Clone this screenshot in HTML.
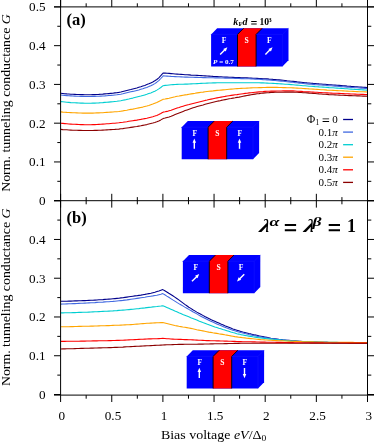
<!DOCTYPE html>
<html><head><meta charset="utf-8"><title>Tunneling conductance</title>
<style>
html,body{margin:0;padding:0;background:#fff;}
body{width:374px;height:443px;overflow:hidden;font-family:"Liberation Serif",serif;}
svg{display:block;will-change:transform;font-family:"Liberation Serif",serif;}
</style></head><body>
<svg width="374" height="443" viewBox="0 0 374 443">
<rect width="374" height="443" fill="#fff"/>
<g fill="none" stroke-width="1.08" stroke-linejoin="round">
<path d="M60.8 93.3 L62.8 93.5 L64.8 93.7 L66.8 93.9 L68.8 94.0 L70.8 94.2 L72.8 94.3 L74.8 94.4 L76.8 94.5 L78.8 94.5 L80.8 94.6 L82.8 94.6 L84.8 94.7 L86.8 94.7 L88.8 94.7 L90.8 94.7 L92.8 94.6 L94.8 94.6 L96.8 94.5 L98.8 94.4 L100.8 94.2 L102.8 94.1 L104.8 93.9 L106.8 93.8 L108.8 93.6 L110.8 93.4 L112.8 93.2 L114.8 92.9 L116.8 92.7 L118.8 92.4 L120.8 92.0 L122.8 91.5 L124.8 91.0 L126.8 90.5 L128.8 90.0 L130.8 89.5 L132.8 88.9 L134.8 88.4 L136.8 87.9 L138.8 87.3 L140.8 86.7 L142.8 86.0 L144.8 85.4 L146.8 84.6 L148.8 83.8 L150.8 82.9 L152.8 82.0 L154.8 80.8 L156.8 79.5 L158.8 77.8 L160.8 75.7 L162.8 73.4 L163.1 73.0 L165.1 73.1 L167.1 73.3 L169.1 73.4 L171.1 73.6 L173.1 73.8 L175.1 74.0 L177.1 74.1 L179.1 74.3 L181.1 74.4 L183.1 74.5 L185.1 74.7 L187.1 74.8 L189.1 74.9 L191.1 75.1 L193.1 75.2 L195.1 75.3 L197.1 75.4 L199.1 75.5 L201.1 75.6 L203.1 75.8 L205.1 75.9 L207.1 76.0 L209.1 76.1 L211.1 76.2 L213.1 76.4 L215.1 76.5 L217.1 76.6 L219.1 76.7 L221.1 76.8 L223.1 77.0 L225.1 77.1 L227.1 77.1 L229.1 77.2 L231.1 77.3 L233.1 77.4 L235.1 77.5 L237.1 77.5 L239.1 77.6 L241.1 77.7 L243.1 77.8 L245.1 77.8 L247.1 77.9 L249.1 78.0 L251.1 78.1 L253.1 78.2 L255.1 78.3 L257.1 78.4 L259.1 78.5 L261.1 78.6 L263.1 78.7 L265.1 78.8 L267.1 78.9 L269.1 79.1 L271.1 79.2 L273.1 79.4 L275.1 79.5 L277.1 79.7 L279.1 79.9 L281.1 80.1 L283.1 80.3 L285.1 80.5 L287.1 80.8 L289.1 81.0 L291.1 81.2 L293.1 81.4 L295.1 81.6 L297.1 81.9 L299.1 82.1 L301.1 82.3 L303.1 82.5 L305.1 82.7 L307.1 82.9 L309.1 83.0 L311.1 83.2 L313.1 83.4 L315.1 83.5 L317.1 83.7 L319.1 83.9 L321.1 84.0 L323.1 84.2 L325.1 84.3 L327.1 84.5 L329.1 84.7 L331.1 84.8 L333.1 85.0 L335.1 85.1 L337.1 85.3 L339.1 85.4 L341.1 85.6 L343.1 85.8 L345.1 85.9 L347.1 86.1 L349.1 86.2 L351.1 86.4 L353.1 86.5 L355.1 86.7 L357.1 86.8 L359.1 87.0 L361.1 87.1 L363.1 87.3 L365.1 87.4 L367.1 87.6 L367.5 87.6" stroke="#00008b"/>
<path d="M60.8 95.0 L62.8 95.2 L64.8 95.4 L66.8 95.6 L68.8 95.8 L70.8 95.9 L72.8 96.0 L74.8 96.1 L76.8 96.2 L78.8 96.3 L80.8 96.4 L82.8 96.4 L84.8 96.5 L86.8 96.5 L88.8 96.5 L90.8 96.5 L92.8 96.4 L94.8 96.4 L96.8 96.3 L98.8 96.2 L100.8 96.1 L102.8 96.0 L104.8 95.9 L106.8 95.7 L108.8 95.5 L110.8 95.4 L112.8 95.2 L114.8 95.0 L116.8 94.8 L118.8 94.5 L120.8 94.2 L122.8 93.8 L124.8 93.3 L126.8 92.8 L128.8 92.3 L130.8 91.8 L132.8 91.4 L134.8 90.9 L136.8 90.4 L138.8 89.9 L140.8 89.3 L142.8 88.8 L144.8 88.1 L146.8 87.4 L148.8 86.6 L150.8 85.7 L152.8 84.7 L154.8 83.6 L156.8 82.2 L158.8 80.6 L160.8 78.5 L162.8 76.3 L163.1 75.9 L165.1 76.0 L167.1 76.1 L169.1 76.2 L171.1 76.4 L173.1 76.5 L175.1 76.6 L177.1 76.7 L179.1 76.8 L181.1 76.9 L183.1 77.0 L185.1 77.1 L187.1 77.1 L189.1 77.2 L191.1 77.3 L193.1 77.3 L195.1 77.4 L197.1 77.4 L199.1 77.5 L201.1 77.5 L203.1 77.6 L205.1 77.6 L207.1 77.7 L209.1 77.7 L211.1 77.8 L213.1 77.8 L215.1 77.9 L217.1 77.9 L219.1 77.9 L221.1 78.0 L223.1 78.0 L225.1 78.1 L227.1 78.1 L229.1 78.2 L231.1 78.2 L233.1 78.3 L235.1 78.4 L237.1 78.4 L239.1 78.5 L241.1 78.6 L243.1 78.6 L245.1 78.7 L247.1 78.8 L249.1 78.8 L251.1 78.9 L253.1 79.0 L255.1 79.1 L257.1 79.2 L259.1 79.3 L261.1 79.4 L263.1 79.6 L265.1 79.7 L267.1 79.9 L269.1 80.0 L271.1 80.2 L273.1 80.4 L275.1 80.5 L277.1 80.7 L279.1 80.9 L281.1 81.1 L283.1 81.3 L285.1 81.5 L287.1 81.7 L289.1 81.9 L291.1 82.1 L293.1 82.3 L295.1 82.6 L297.1 82.8 L299.1 83.1 L301.1 83.3 L303.1 83.5 L305.1 83.7 L307.1 83.9 L309.1 84.1 L311.1 84.2 L313.1 84.4 L315.1 84.6 L317.1 84.7 L319.1 84.9 L321.1 85.0 L323.1 85.2 L325.1 85.3 L327.1 85.5 L329.1 85.7 L331.1 85.8 L333.1 86.0 L335.1 86.1 L337.1 86.3 L339.1 86.4 L341.1 86.6 L343.1 86.8 L345.1 86.9 L347.1 87.1 L349.1 87.2 L351.1 87.4 L353.1 87.5 L355.1 87.7 L357.1 87.8 L359.1 88.0 L361.1 88.1 L363.1 88.3 L365.1 88.4 L367.1 88.6 L367.5 88.6" stroke="#4169e1"/>
<path d="M60.8 101.6 L62.8 101.8 L64.8 102.0 L66.8 102.2 L68.8 102.4 L70.8 102.6 L72.8 102.7 L74.8 102.8 L76.8 102.9 L78.8 103.0 L80.8 103.1 L82.8 103.1 L84.8 103.2 L86.8 103.2 L88.8 103.2 L90.8 103.2 L92.8 103.1 L94.8 103.1 L96.8 103.0 L98.8 102.9 L100.8 102.7 L102.8 102.6 L104.8 102.4 L106.8 102.3 L108.8 102.1 L110.8 101.9 L112.8 101.7 L114.8 101.5 L116.8 101.3 L118.8 101.0 L120.8 100.7 L122.8 100.3 L124.8 99.9 L126.8 99.4 L128.8 99.0 L130.8 98.5 L132.8 98.1 L134.8 97.6 L136.8 97.1 L138.8 96.6 L140.8 96.1 L142.8 95.5 L144.8 94.9 L146.8 94.3 L148.8 93.6 L150.8 92.9 L152.8 92.1 L154.8 91.2 L156.8 90.1 L158.8 88.9 L160.8 87.5 L162.8 85.9 L163.1 85.7 L165.1 85.4 L167.1 85.2 L169.1 85.0 L171.1 84.8 L173.1 84.6 L175.1 84.5 L177.1 84.4 L179.1 84.3 L181.1 84.2 L183.1 84.2 L185.1 84.1 L187.1 84.1 L189.1 84.0 L191.1 83.9 L193.1 83.8 L195.1 83.7 L197.1 83.6 L199.1 83.5 L201.1 83.4 L203.1 83.3 L205.1 83.2 L207.1 83.1 L209.1 83.0 L211.1 83.0 L213.1 82.9 L215.1 82.9 L217.1 82.8 L219.1 82.8 L221.1 82.7 L223.1 82.7 L225.1 82.7 L227.1 82.7 L229.1 82.7 L231.1 82.7 L233.1 82.7 L235.1 82.7 L237.1 82.7 L239.1 82.7 L241.1 82.7 L243.1 82.7 L245.1 82.7 L247.1 82.7 L249.1 82.7 L251.1 82.7 L253.1 82.7 L255.1 82.7 L257.1 82.7 L259.1 82.8 L261.1 82.9 L263.1 82.9 L265.1 83.0 L267.1 83.1 L269.1 83.2 L271.1 83.3 L273.1 83.4 L275.1 83.5 L277.1 83.6 L279.1 83.8 L281.1 83.9 L283.1 84.0 L285.1 84.2 L287.1 84.3 L289.1 84.4 L291.1 84.6 L293.1 84.8 L295.1 85.0 L297.1 85.1 L299.1 85.3 L301.1 85.5 L303.1 85.7 L305.1 85.8 L307.1 86.0 L309.1 86.2 L311.1 86.3 L313.1 86.4 L315.1 86.6 L317.1 86.7 L319.1 86.9 L321.1 87.0 L323.1 87.1 L325.1 87.3 L327.1 87.4 L329.1 87.6 L331.1 87.7 L333.1 87.8 L335.1 88.0 L337.1 88.1 L339.1 88.3 L341.1 88.4 L343.1 88.5 L345.1 88.7 L347.1 88.8 L349.1 89.0 L351.1 89.1 L353.1 89.2 L355.1 89.4 L357.1 89.5 L359.1 89.6 L361.1 89.8 L363.1 89.9 L365.1 90.0 L367.1 90.2 L367.5 90.2" stroke="#00ced1"/>
<path d="M60.8 111.9 L62.8 112.1 L64.8 112.2 L66.8 112.4 L68.8 112.5 L70.8 112.6 L72.8 112.7 L74.8 112.8 L76.8 112.9 L78.8 113.0 L80.8 113.0 L82.8 113.1 L84.8 113.1 L86.8 113.1 L88.8 113.1 L90.8 113.1 L92.8 113.1 L94.8 113.0 L96.8 112.9 L98.8 112.9 L100.8 112.8 L102.8 112.7 L104.8 112.5 L106.8 112.4 L108.8 112.3 L110.8 112.1 L112.8 112.0 L114.8 111.8 L116.8 111.7 L118.8 111.5 L120.8 111.2 L122.8 110.9 L124.8 110.5 L126.8 110.2 L128.8 109.8 L130.8 109.4 L132.8 109.1 L134.8 108.7 L136.8 108.3 L138.8 107.9 L140.8 107.5 L142.8 107.1 L144.8 106.6 L146.8 106.1 L148.8 105.5 L150.8 104.8 L152.8 104.1 L154.8 103.3 L156.8 102.5 L158.8 101.5 L160.8 100.5 L162.8 99.5 L163.1 99.3 L165.1 99.0 L167.1 98.6 L169.1 98.2 L171.1 97.7 L173.1 97.2 L175.1 96.8 L177.1 96.3 L179.1 96.0 L181.1 95.6 L183.1 95.2 L185.1 94.9 L187.1 94.6 L189.1 94.2 L191.1 93.9 L193.1 93.6 L195.1 93.3 L197.1 92.9 L199.1 92.6 L201.1 92.3 L203.1 92.1 L205.1 91.8 L207.1 91.5 L209.1 91.3 L211.1 91.1 L213.1 90.9 L215.1 90.6 L217.1 90.4 L219.1 90.3 L221.1 90.1 L223.1 89.9 L225.1 89.7 L227.1 89.5 L229.1 89.3 L231.1 89.1 L233.1 89.0 L235.1 88.8 L237.1 88.6 L239.1 88.5 L241.1 88.4 L243.1 88.3 L245.1 88.2 L247.1 88.1 L249.1 88.0 L251.1 87.9 L253.1 87.8 L255.1 87.8 L257.1 87.7 L259.1 87.6 L261.1 87.6 L263.1 87.5 L265.1 87.5 L267.1 87.4 L269.1 87.4 L271.1 87.4 L273.1 87.4 L275.1 87.4 L277.1 87.4 L279.1 87.5 L281.1 87.5 L283.1 87.6 L285.1 87.6 L287.1 87.7 L289.1 87.7 L291.1 87.8 L293.1 87.9 L295.1 88.0 L297.1 88.1 L299.1 88.2 L301.1 88.3 L303.1 88.5 L305.1 88.6 L307.1 88.7 L309.1 88.9 L311.1 89.0 L313.1 89.1 L315.1 89.3 L317.1 89.4 L319.1 89.5 L321.1 89.7 L323.1 89.8 L325.1 89.9 L327.1 90.1 L329.1 90.2 L331.1 90.3 L333.1 90.4 L335.1 90.5 L337.1 90.6 L339.1 90.7 L341.1 90.8 L343.1 90.9 L345.1 91.0 L347.1 91.1 L349.1 91.2 L351.1 91.3 L353.1 91.4 L355.1 91.5 L357.1 91.6 L359.1 91.7 L361.1 91.7 L363.1 91.8 L365.1 91.9 L367.1 92.0 L367.5 92.0" stroke="#ffa500"/>
<path d="M60.8 123.2 L62.8 123.4 L64.8 123.6 L66.8 123.8 L68.8 124.0 L70.8 124.1 L72.8 124.2 L74.8 124.3 L76.8 124.4 L78.8 124.5 L80.8 124.6 L82.8 124.6 L84.8 124.7 L86.8 124.7 L88.8 124.7 L90.8 124.7 L92.8 124.6 L94.8 124.6 L96.8 124.5 L98.8 124.4 L100.8 124.3 L102.8 124.1 L104.8 124.0 L106.8 123.8 L108.8 123.7 L110.8 123.5 L112.8 123.3 L114.8 123.2 L116.8 123.0 L118.8 122.8 L120.8 122.5 L122.8 122.3 L124.8 122.0 L126.8 121.7 L128.8 121.3 L130.8 121.0 L132.8 120.7 L134.8 120.4 L136.8 120.1 L138.8 119.7 L140.8 119.4 L142.8 119.0 L144.8 118.6 L146.8 118.2 L148.8 117.7 L150.8 117.2 L152.8 116.7 L154.8 116.1 L156.8 115.4 L158.8 114.5 L160.8 113.5 L162.8 112.3 L163.1 112.1 L165.1 111.8 L167.1 111.4 L169.1 110.8 L171.1 110.2 L173.1 109.5 L175.1 108.8 L177.1 108.1 L179.1 107.5 L181.1 106.8 L183.1 106.2 L185.1 105.6 L187.1 105.0 L189.1 104.5 L191.1 103.9 L193.1 103.4 L195.1 102.9 L197.1 102.4 L199.1 101.9 L201.1 101.4 L203.1 100.9 L205.1 100.4 L207.1 100.0 L209.1 99.5 L211.1 99.1 L213.1 98.7 L215.1 98.3 L217.1 97.9 L219.1 97.5 L221.1 97.1 L223.1 96.7 L225.1 96.4 L227.1 96.0 L229.1 95.7 L231.1 95.4 L233.1 95.1 L235.1 94.8 L237.1 94.6 L239.1 94.3 L241.1 94.0 L243.1 93.7 L245.1 93.4 L247.1 93.2 L249.1 92.9 L251.1 92.7 L253.1 92.5 L255.1 92.3 L257.1 92.1 L259.1 91.9 L261.1 91.7 L263.1 91.6 L265.1 91.4 L267.1 91.3 L269.1 91.2 L271.1 91.1 L273.1 91.1 L275.1 91.1 L277.1 91.0 L279.1 91.0 L281.1 91.0 L283.1 90.9 L285.1 90.9 L287.1 90.9 L289.1 90.9 L291.1 90.9 L293.1 90.9 L295.1 91.0 L297.1 91.2 L299.1 91.3 L301.1 91.4 L303.1 91.6 L305.1 91.7 L307.1 91.8 L309.1 91.9 L311.1 92.0 L313.1 92.1 L315.1 92.2 L317.1 92.3 L319.1 92.5 L321.1 92.6 L323.1 92.7 L325.1 92.8 L327.1 92.9 L329.1 93.0 L331.1 93.1 L333.1 93.2 L335.1 93.3 L337.1 93.3 L339.1 93.4 L341.1 93.5 L343.1 93.6 L345.1 93.7 L347.1 93.8 L349.1 93.9 L351.1 94.0 L353.1 94.0 L355.1 94.1 L357.1 94.2 L359.1 94.3 L361.1 94.4 L363.1 94.4 L365.1 94.5 L367.1 94.6 L367.5 94.6" stroke="#ff0000"/>
<path d="M60.8 129.4 L62.8 129.6 L64.8 129.7 L66.8 129.8 L68.8 130.0 L70.8 130.1 L72.8 130.2 L74.8 130.2 L76.8 130.3 L78.8 130.4 L80.8 130.4 L82.8 130.5 L84.8 130.5 L86.8 130.5 L88.8 130.5 L90.8 130.5 L92.8 130.5 L94.8 130.4 L96.8 130.4 L98.8 130.3 L100.8 130.2 L102.8 130.1 L104.8 130.0 L106.8 129.9 L108.8 129.8 L110.8 129.6 L112.8 129.5 L114.8 129.4 L116.8 129.2 L118.8 129.1 L120.8 128.8 L122.8 128.6 L124.8 128.3 L126.8 128.0 L128.8 127.7 L130.8 127.4 L132.8 127.1 L134.8 126.8 L136.8 126.5 L138.8 126.1 L140.8 125.8 L142.8 125.4 L144.8 125.0 L146.8 124.6 L148.8 124.1 L150.8 123.6 L152.8 123.1 L154.8 122.5 L156.8 121.8 L158.8 120.9 L160.8 119.9 L162.8 118.8 L163.1 118.6 L165.1 118.1 L167.1 117.5 L169.1 116.9 L171.1 116.2 L173.1 115.4 L175.1 114.6 L177.1 113.8 L179.1 113.0 L181.1 112.2 L183.1 111.4 L185.1 110.6 L187.1 109.9 L189.1 109.2 L191.1 108.5 L193.1 107.8 L195.1 107.2 L197.1 106.6 L199.1 106.0 L201.1 105.4 L203.1 104.9 L205.1 104.3 L207.1 103.8 L209.1 103.3 L211.1 102.8 L213.1 102.3 L215.1 101.8 L217.1 101.3 L219.1 100.9 L221.1 100.4 L223.1 100.0 L225.1 99.6 L227.1 99.2 L229.1 98.8 L231.1 98.5 L233.1 98.1 L235.1 97.8 L237.1 97.4 L239.1 97.1 L241.1 96.7 L243.1 96.3 L245.1 95.9 L247.1 95.5 L249.1 95.1 L251.1 94.7 L253.1 94.4 L255.1 94.1 L257.1 93.8 L259.1 93.6 L261.1 93.3 L263.1 93.1 L265.1 92.9 L267.1 92.7 L269.1 92.6 L271.1 92.4 L273.1 92.4 L275.1 92.3 L277.1 92.3 L279.1 92.2 L281.1 92.2 L283.1 92.2 L285.1 92.1 L287.1 92.1 L289.1 92.1 L291.1 92.1 L293.1 92.1 L295.1 92.2 L297.1 92.3 L299.1 92.4 L301.1 92.5 L303.1 92.7 L305.1 92.8 L307.1 92.9 L309.1 93.1 L311.1 93.2 L313.1 93.4 L315.1 93.5 L317.1 93.7 L319.1 93.9 L321.1 94.0 L323.1 94.2 L325.1 94.3 L327.1 94.4 L329.1 94.6 L331.1 94.7 L333.1 94.8 L335.1 94.9 L337.1 95.0 L339.1 95.1 L341.1 95.2 L343.1 95.3 L345.1 95.4 L347.1 95.5 L349.1 95.6 L351.1 95.6 L353.1 95.7 L355.1 95.8 L357.1 95.9 L359.1 95.9 L361.1 96.0 L363.1 96.1 L365.1 96.1 L367.1 96.2 L367.5 96.2" stroke="#8b0000"/>
<path d="M60.9 301.3 L62.9 301.3 L64.9 301.2 L66.9 301.2 L68.9 301.1 L70.9 301.1 L72.9 301.0 L74.9 300.9 L76.9 300.9 L78.9 300.8 L80.9 300.7 L82.9 300.6 L84.9 300.6 L86.9 300.5 L88.9 300.4 L90.9 300.3 L92.9 300.2 L94.9 300.1 L96.9 300.0 L98.9 299.8 L100.9 299.7 L102.9 299.6 L104.9 299.4 L106.9 299.3 L108.9 299.1 L110.9 299.0 L112.9 298.8 L114.9 298.6 L116.9 298.4 L118.9 298.2 L120.9 297.9 L122.9 297.7 L124.9 297.4 L126.9 297.1 L128.9 296.8 L130.9 296.5 L132.9 296.2 L134.9 295.9 L136.9 295.7 L138.9 295.4 L140.9 295.1 L142.9 294.7 L144.9 294.4 L146.9 294.0 L148.9 293.6 L150.9 293.2 L152.9 292.7 L154.9 292.2 L156.9 291.6 L158.9 291.0 L160.9 290.3 L162.8 289.6 L164.8 290.8 L166.8 292.0 L168.8 293.3 L170.8 294.5 L172.8 295.8 L174.8 297.1 L176.8 298.5 L178.8 299.9 L180.8 301.4 L182.8 302.9 L184.8 304.4 L186.8 305.8 L188.8 307.2 L190.8 308.4 L192.8 309.7 L194.8 310.9 L196.8 312.1 L198.8 313.2 L200.8 314.3 L202.8 315.4 L204.8 316.5 L206.8 317.5 L208.8 318.5 L210.8 319.5 L212.8 320.4 L214.8 321.3 L216.8 322.2 L218.8 323.1 L220.8 324.0 L222.8 324.8 L224.8 325.7 L226.8 326.5 L228.8 327.3 L230.8 328.1 L232.8 328.9 L234.8 329.6 L236.8 330.2 L238.8 330.8 L240.8 331.4 L242.8 332.0 L244.8 332.5 L246.8 333.0 L248.8 333.5 L250.8 333.9 L252.8 334.4 L254.8 334.9 L256.8 335.3 L258.8 335.8 L260.8 336.2 L262.8 336.6 L264.8 337.0 L266.8 337.4 L268.8 337.8 L270.8 338.2 L272.8 338.5 L274.8 338.7 L276.8 339.0 L278.8 339.3 L280.8 339.5 L282.8 339.8 L284.8 340.0 L286.8 340.2 L288.8 340.4 L290.8 340.6 L292.8 340.8 L294.8 340.9 L296.8 341.1 L298.8 341.3 L300.8 341.4 L302.8 341.5 L304.8 341.6 L306.8 341.7 L308.8 341.8 L310.8 341.9 L312.8 342.0 L314.8 342.1 L316.8 342.1 L318.8 342.2 L320.8 342.3 L322.8 342.3 L324.8 342.4 L326.8 342.4 L328.8 342.5 L330.8 342.5 L332.8 342.6 L334.8 342.6 L336.8 342.6 L338.8 342.7 L340.8 342.7 L342.8 342.7 L344.8 342.7 L346.8 342.8 L348.8 342.8 L350.8 342.8 L352.8 342.8 L354.8 342.8 L356.8 342.9 L358.8 342.9 L360.8 342.9 L362.8 342.9 L364.8 342.9 L366.8 342.9 L367.5 342.9" stroke="#00008b"/>
<path d="M60.9 304.1 L62.9 304.0 L64.9 304.0 L66.9 303.9 L68.9 303.8 L70.9 303.7 L72.9 303.6 L74.9 303.6 L76.9 303.5 L78.9 303.4 L80.9 303.3 L82.9 303.2 L84.9 303.1 L86.9 303.0 L88.9 302.9 L90.9 302.8 L92.9 302.7 L94.9 302.6 L96.9 302.4 L98.9 302.3 L100.9 302.2 L102.9 302.1 L104.9 301.9 L106.9 301.8 L108.9 301.7 L110.9 301.5 L112.9 301.4 L114.9 301.2 L116.9 301.0 L118.9 300.8 L120.9 300.6 L122.9 300.4 L124.9 300.1 L126.9 299.9 L128.9 299.6 L130.9 299.3 L132.9 299.0 L134.9 298.7 L136.9 298.4 L138.9 298.1 L140.9 297.8 L142.9 297.5 L144.9 297.2 L146.9 296.8 L148.9 296.5 L150.9 296.2 L152.9 295.9 L154.9 295.5 L156.9 295.2 L158.9 294.7 L160.9 294.2 L162.8 293.6 L164.8 294.8 L166.8 296.1 L168.8 297.3 L170.8 298.6 L172.8 299.9 L174.8 301.1 L176.8 302.4 L178.8 303.6 L180.8 304.7 L182.8 305.9 L184.8 307.1 L186.8 308.2 L188.8 309.4 L190.8 310.5 L192.8 311.7 L194.8 312.8 L196.8 313.9 L198.8 315.1 L200.8 316.2 L202.8 317.3 L204.8 318.3 L206.8 319.3 L208.8 320.3 L210.8 321.2 L212.8 322.1 L214.8 323.0 L216.8 323.9 L218.8 324.8 L220.8 325.6 L222.8 326.4 L224.8 327.2 L226.8 328.0 L228.8 328.7 L230.8 329.5 L232.8 330.2 L234.8 330.8 L236.8 331.4 L238.8 332.0 L240.8 332.6 L242.8 333.1 L244.8 333.6 L246.8 334.1 L248.8 334.6 L250.8 335.0 L252.8 335.4 L254.8 335.8 L256.8 336.2 L258.8 336.6 L260.8 336.9 L262.8 337.3 L264.8 337.6 L266.8 337.9 L268.8 338.2 L270.8 338.5 L272.8 338.8 L274.8 339.0 L276.8 339.3 L278.8 339.5 L280.8 339.8 L282.8 340.0 L284.8 340.2 L286.8 340.4 L288.8 340.6 L290.8 340.8 L292.8 340.9 L294.8 341.1 L296.8 341.3 L298.8 341.4 L300.8 341.5 L302.8 341.6 L304.8 341.7 L306.8 341.8 L308.8 341.9 L310.8 342.0 L312.8 342.0 L314.8 342.1 L316.8 342.2 L318.8 342.2 L320.8 342.3 L322.8 342.4 L324.8 342.4 L326.8 342.4 L328.8 342.5 L330.8 342.5 L332.8 342.6 L334.8 342.6 L336.8 342.6 L338.8 342.7 L340.8 342.7 L342.8 342.7 L344.8 342.7 L346.8 342.8 L348.8 342.8 L350.8 342.8 L352.8 342.8 L354.8 342.8 L356.8 342.9 L358.8 342.9 L360.8 342.9 L362.8 342.9 L364.8 342.9 L366.8 342.9 L367.5 342.9" stroke="#4169e1"/>
<path d="M60.9 312.9 L62.9 312.9 L64.9 312.8 L66.9 312.8 L68.9 312.7 L70.9 312.7 L72.9 312.6 L74.9 312.6 L76.9 312.5 L78.9 312.4 L80.9 312.4 L82.9 312.3 L84.9 312.2 L86.9 312.2 L88.9 312.1 L90.9 312.0 L92.9 311.9 L94.9 311.8 L96.9 311.7 L98.9 311.6 L100.9 311.5 L102.9 311.4 L104.9 311.3 L106.9 311.2 L108.9 311.1 L110.9 311.0 L112.9 310.9 L114.9 310.7 L116.9 310.6 L118.9 310.4 L120.9 310.3 L122.9 310.1 L124.9 310.0 L126.9 309.8 L128.9 309.6 L130.9 309.4 L132.9 309.2 L134.9 309.0 L136.9 308.8 L138.9 308.6 L140.9 308.3 L142.9 308.1 L144.9 307.9 L146.9 307.6 L148.9 307.4 L150.9 307.2 L152.9 306.9 L154.9 306.7 L156.9 306.5 L158.9 306.2 L160.9 306.0 L162.8 305.7 L164.8 306.5 L166.8 307.4 L168.8 308.3 L170.8 309.2 L172.8 310.1 L174.8 311.0 L176.8 311.8 L178.8 312.7 L180.8 313.5 L182.8 314.4 L184.8 315.2 L186.8 316.0 L188.8 316.8 L190.8 317.7 L192.8 318.5 L194.8 319.3 L196.8 320.1 L198.8 321.0 L200.8 321.8 L202.8 322.6 L204.8 323.3 L206.8 324.1 L208.8 324.8 L210.8 325.5 L212.8 326.2 L214.8 326.9 L216.8 327.5 L218.8 328.2 L220.8 328.8 L222.8 329.5 L224.8 330.1 L226.8 330.7 L228.8 331.3 L230.8 332.0 L232.8 332.6 L234.8 333.1 L236.8 333.7 L238.8 334.1 L240.8 334.6 L242.8 335.0 L244.8 335.4 L246.8 335.7 L248.8 336.1 L250.8 336.4 L252.8 336.8 L254.8 337.1 L256.8 337.4 L258.8 337.7 L260.8 337.9 L262.8 338.2 L264.8 338.4 L266.8 338.7 L268.8 338.9 L270.8 339.1 L272.8 339.3 L274.8 339.5 L276.8 339.7 L278.8 339.9 L280.8 340.1 L282.8 340.3 L284.8 340.4 L286.8 340.6 L288.8 340.7 L290.8 340.9 L292.8 341.0 L294.8 341.1 L296.8 341.2 L298.8 341.4 L300.8 341.5 L302.8 341.5 L304.8 341.6 L306.8 341.7 L308.8 341.8 L310.8 341.8 L312.8 341.9 L314.8 342.0 L316.8 342.0 L318.8 342.1 L320.8 342.1 L322.8 342.2 L324.8 342.2 L326.8 342.3 L328.8 342.3 L330.8 342.3 L332.8 342.4 L334.8 342.4 L336.8 342.4 L338.8 342.5 L340.8 342.5 L342.8 342.5 L344.8 342.5 L346.8 342.6 L348.8 342.6 L350.8 342.6 L352.8 342.6 L354.8 342.6 L356.8 342.7 L358.8 342.7 L360.8 342.7 L362.8 342.7 L364.8 342.7 L366.8 342.7 L367.5 342.7" stroke="#00ced1"/>
<path d="M60.9 326.8 L62.9 326.8 L64.9 326.7 L66.9 326.7 L68.9 326.7 L70.9 326.6 L72.9 326.6 L74.9 326.5 L76.9 326.5 L78.9 326.4 L80.9 326.4 L82.9 326.3 L84.9 326.3 L86.9 326.2 L88.9 326.2 L90.9 326.1 L92.9 326.1 L94.9 326.0 L96.9 326.0 L98.9 325.9 L100.9 325.8 L102.9 325.8 L104.9 325.7 L106.9 325.6 L108.9 325.6 L110.9 325.5 L112.9 325.4 L114.9 325.3 L116.9 325.3 L118.9 325.2 L120.9 325.1 L122.9 325.0 L124.9 324.9 L126.9 324.8 L128.9 324.7 L130.9 324.6 L132.9 324.5 L134.9 324.3 L136.9 324.1 L138.9 324.0 L140.9 323.8 L142.9 323.6 L144.9 323.5 L146.9 323.3 L148.9 323.2 L150.9 323.1 L152.9 323.0 L154.9 322.9 L156.9 322.8 L158.9 322.7 L160.9 322.6 L162.8 322.5 L164.8 323.0 L166.8 323.5 L168.8 324.0 L170.8 324.5 L172.8 325.0 L174.8 325.5 L176.8 325.9 L178.8 326.3 L180.8 326.6 L182.8 327.0 L184.8 327.3 L186.8 327.6 L188.8 328.0 L190.8 328.4 L192.8 328.8 L194.8 329.2 L196.8 329.7 L198.8 330.1 L200.8 330.5 L202.8 330.9 L204.8 331.3 L206.8 331.7 L208.8 332.1 L210.8 332.4 L212.8 332.8 L214.8 333.1 L216.8 333.4 L218.8 333.8 L220.8 334.1 L222.8 334.4 L224.8 334.8 L226.8 335.1 L228.8 335.5 L230.8 335.9 L232.8 336.2 L234.8 336.6 L236.8 336.9 L238.8 337.2 L240.8 337.4 L242.8 337.7 L244.8 337.9 L246.8 338.2 L248.8 338.4 L250.8 338.6 L252.8 338.8 L254.8 339.0 L256.8 339.2 L258.8 339.4 L260.8 339.6 L262.8 339.7 L264.8 339.9 L266.8 340.0 L268.8 340.2 L270.8 340.3 L272.8 340.4 L274.8 340.5 L276.8 340.6 L278.8 340.7 L280.8 340.8 L282.8 340.9 L284.8 341.0 L286.8 341.0 L288.8 341.1 L290.8 341.2 L292.8 341.3 L294.8 341.4 L296.8 341.4 L298.8 341.5 L300.8 341.6 L302.8 341.7 L304.8 341.7 L306.8 341.8 L308.8 341.8 L310.8 341.9 L312.8 341.9 L314.8 342.0 L316.8 342.0 L318.8 342.1 L320.8 342.1 L322.8 342.1 L324.8 342.2 L326.8 342.2 L328.8 342.2 L330.8 342.3 L332.8 342.3 L334.8 342.3 L336.8 342.3 L338.8 342.3 L340.8 342.4 L342.8 342.4 L344.8 342.4 L346.8 342.4 L348.8 342.4 L350.8 342.4 L352.8 342.4 L354.8 342.5 L356.8 342.5 L358.8 342.5 L360.8 342.5 L362.8 342.5 L364.8 342.5 L366.8 342.5 L367.5 342.5" stroke="#ffa500"/>
<path d="M60.9 341.4 L62.9 341.4 L64.9 341.4 L66.9 341.3 L68.9 341.3 L70.9 341.3 L72.9 341.2 L74.9 341.2 L76.9 341.2 L78.9 341.2 L80.9 341.1 L82.9 341.1 L84.9 341.1 L86.9 341.0 L88.9 341.0 L90.9 341.0 L92.9 340.9 L94.9 340.9 L96.9 340.9 L98.9 340.8 L100.9 340.8 L102.9 340.8 L104.9 340.7 L106.9 340.7 L108.9 340.6 L110.9 340.6 L112.9 340.5 L114.9 340.5 L116.9 340.4 L118.9 340.4 L120.9 340.3 L122.9 340.2 L124.9 340.1 L126.9 340.0 L128.9 339.9 L130.9 339.8 L132.9 339.7 L134.9 339.6 L136.9 339.5 L138.9 339.4 L140.9 339.3 L142.9 339.2 L144.9 339.1 L146.9 339.0 L148.9 338.9 L150.9 338.9 L152.9 338.8 L154.9 338.8 L156.9 338.7 L158.9 338.6 L160.9 338.5 L162.8 338.4 L164.8 338.5 L166.8 338.7 L168.8 338.8 L170.8 339.0 L172.8 339.1 L174.8 339.2 L176.8 339.3 L178.8 339.4 L180.8 339.4 L182.8 339.5 L184.8 339.6 L186.8 339.6 L188.8 339.7 L190.8 339.8 L192.8 339.9 L194.8 340.0 L196.8 340.1 L198.8 340.2 L200.8 340.3 L202.8 340.4 L204.8 340.5 L206.8 340.6 L208.8 340.6 L210.8 340.7 L212.8 340.8 L214.8 340.8 L216.8 340.9 L218.8 340.9 L220.8 341.0 L222.8 341.0 L224.8 341.1 L226.8 341.1 L228.8 341.2 L230.8 341.3 L232.8 341.4 L234.8 341.4 L236.8 341.5 L238.8 341.6 L240.8 341.6 L242.8 341.7 L244.8 341.7 L246.8 341.7 L248.8 341.8 L250.8 341.8 L252.8 341.9 L254.8 341.9 L256.8 342.0 L258.8 342.0 L260.8 342.1 L262.8 342.1 L264.8 342.1 L266.8 342.2 L268.8 342.2 L270.8 342.3 L272.8 342.3 L274.8 342.3 L276.8 342.4 L278.8 342.4 L280.8 342.4 L282.8 342.5 L284.8 342.5 L286.8 342.5 L288.8 342.6 L290.8 342.6 L292.8 342.6 L294.8 342.7 L296.8 342.7 L298.8 342.7 L300.8 342.8 L302.8 342.8 L304.8 342.8 L306.8 342.8 L308.8 342.8 L310.8 342.9 L312.8 342.9 L314.8 342.9 L316.8 342.9 L318.8 342.9 L320.8 342.9 L322.8 342.9 L324.8 343.0 L326.8 343.0 L328.8 343.0 L330.8 343.0 L332.8 343.0 L334.8 343.0 L336.8 343.0 L338.8 343.0 L340.8 343.0 L342.8 343.0 L344.8 343.0 L346.8 343.0 L348.8 343.1 L350.8 343.1 L352.8 343.1 L354.8 343.1 L356.8 343.1 L358.8 343.1 L360.8 343.1 L362.8 343.1 L364.8 343.1 L366.8 343.1 L367.5 343.1" stroke="#ff0000"/>
<path d="M60.9 349.0 L62.9 348.9 L64.9 348.9 L66.9 348.8 L68.9 348.8 L70.9 348.7 L72.9 348.7 L74.9 348.6 L76.9 348.5 L78.9 348.5 L80.9 348.4 L82.9 348.4 L84.9 348.3 L86.9 348.2 L88.9 348.2 L90.9 348.1 L92.9 348.1 L94.9 348.0 L96.9 348.0 L98.9 347.9 L100.9 347.9 L102.9 347.8 L104.9 347.8 L106.9 347.7 L108.9 347.6 L110.9 347.6 L112.9 347.5 L114.9 347.4 L116.9 347.4 L118.9 347.3 L120.9 347.2 L122.9 347.1 L124.9 346.9 L126.9 346.8 L128.9 346.7 L130.9 346.6 L132.9 346.5 L134.9 346.4 L136.9 346.3 L138.9 346.2 L140.9 346.1 L142.9 346.0 L144.9 345.9 L146.9 345.8 L148.9 345.7 L150.9 345.6 L152.9 345.5 L154.9 345.4 L156.9 345.3 L158.9 345.2 L160.9 345.1 L162.8 345.0 L164.8 344.9 L166.8 344.8 L168.8 344.8 L170.8 344.7 L172.8 344.6 L174.8 344.5 L176.8 344.5 L178.8 344.4 L180.8 344.4 L182.8 344.4 L184.8 344.3 L186.8 344.3 L188.8 344.3 L190.8 344.3 L192.8 344.2 L194.8 344.2 L196.8 344.2 L198.8 344.1 L200.8 344.1 L202.8 344.1 L204.8 344.0 L206.8 344.0 L208.8 344.0 L210.8 343.9 L212.8 343.9 L214.8 343.8 L216.8 343.8 L218.8 343.8 L220.8 343.7 L222.8 343.7 L224.8 343.6 L226.8 343.6 L228.8 343.5 L230.8 343.5 L232.8 343.5 L234.8 343.4 L236.8 343.4 L238.8 343.4 L240.8 343.3 L242.8 343.3 L244.8 343.3 L246.8 343.2 L248.8 343.2 L250.8 343.2 L252.8 343.2 L254.8 343.2 L256.8 343.2 L258.8 343.2 L260.8 343.2 L262.8 343.2 L264.8 343.2 L266.8 343.2 L268.8 343.2 L270.8 343.2 L272.8 343.2 L274.8 343.2 L276.8 343.2 L278.8 343.2 L280.8 343.2 L282.8 343.2 L284.8 343.2 L286.8 343.2 L288.8 343.2 L290.8 343.2 L292.8 343.2 L294.8 343.2 L296.8 343.2 L298.8 343.2 L300.8 343.2 L302.8 343.2 L304.8 343.2 L306.8 343.2 L308.8 343.2 L310.8 343.2 L312.8 343.2 L314.8 343.2 L316.8 343.2 L318.8 343.2 L320.8 343.2 L322.8 343.2 L324.8 343.2 L326.8 343.2 L328.8 343.2 L330.8 343.2 L332.8 343.2 L334.8 343.2 L336.8 343.2 L338.8 343.2 L340.8 343.2 L342.8 343.2 L344.8 343.2 L346.8 343.2 L348.8 343.2 L350.8 343.2 L352.8 343.2 L354.8 343.2 L356.8 343.2 L358.8 343.2 L360.8 343.2 L362.8 343.2 L364.8 343.2 L366.8 343.2 L367.5 343.2" stroke="#8b0000"/>
</g>
<polygon points="211.1,34.4 217.2,28.3 288.5,28.3 288.5,60.3 282.4,66.4 211.1,66.4" fill="#0000ff"/>
<polygon points="237.5,66.4 237.5,34.4 243.6,28.3 262.2,28.3 256.1,34.4 256.1,66.4" fill="#ff0000"/>
<path d="M237.5 66.4 L237.5 34.4 L243.6 28.3 M256.1 66.4 L256.1 34.4 L262.2 28.3" stroke="#000" stroke-width="0.9" fill="none"/>
<path d="M282.4 66.4 L282.4 34.4 L288.5 28.3 M211.1 34.4 L237.5 34.4 M256.1 34.4 L282.4 34.4" stroke="#1a1aff" stroke-width="0.45" fill="none"/>
<text x="224.1" y="43.0" text-anchor="middle" font-weight="bold" font-size="7.6" fill="#fff">F</text>
<text x="246.7" y="43.0" text-anchor="middle" font-weight="bold" font-size="7.6" fill="#fff">S</text>
<text x="269.3" y="43.0" text-anchor="middle" font-weight="bold" font-size="7.6" fill="#fff">F</text>
<g transform="translate(223.7 51.0) rotate(45)"><path d="M0 5.0 L0 -2" stroke="#fff" stroke-width="1.4" fill="none"/><path d="M0 -5.2 L1.75 -1.1 L-1.75 -1.1 Z" fill="#fff"/></g>
<g transform="translate(268.9 51.0) rotate(45)"><path d="M0 5.0 L0 -2" stroke="#fff" stroke-width="1.4" fill="none"/><path d="M0 -5.2 L1.75 -1.1 L-1.75 -1.1 Z" fill="#fff"/></g>

<text x="223.5" y="63.5" text-anchor="middle" font-weight="bold" font-style="italic" font-size="7.1" fill="#fff">P<tspan font-style="normal"> = 0.7</tspan></text>
<g font-weight="bold" font-size="10"><text x="233.3" y="25" font-style="italic">k</text><text x="238.6" y="26.4" font-size="6.8">F</text><text x="242.6" y="25" font-style="italic">d</text><path d="M251.2 20.9h5.5v1.1h-5.5z M251.2 23.4h5.5v1.1h-5.5z"/><text x="259.4" y="25" font-size="9.6">10</text><text x="268.3" y="21.6" font-size="6.9">3</text></g>
<polygon points="181.7,127.2 187.8,121.1 259.1,121.1 259.1,153.1 253.0,159.2 181.7,159.2" fill="#0000ff"/>
<polygon points="208.1,159.2 208.1,127.2 214.2,121.1 232.8,121.1 226.7,127.2 226.7,159.2" fill="#ff0000"/>
<path d="M208.1 159.2 L208.1 127.2 L214.2 121.1 M226.7 159.2 L226.7 127.2 L232.8 121.1" stroke="#000" stroke-width="0.9" fill="none"/>
<path d="M253.0 159.2 L253.0 127.2 L259.1 121.1 M181.7 127.2 L208.1 127.2 M226.7 127.2 L253.0 127.2" stroke="#1a1aff" stroke-width="0.45" fill="none"/>
<text x="194.7" y="135.8" text-anchor="middle" font-weight="bold" font-size="7.6" fill="#fff">F</text>
<text x="217.3" y="135.8" text-anchor="middle" font-weight="bold" font-size="7.6" fill="#fff">S</text>
<text x="239.9" y="135.8" text-anchor="middle" font-weight="bold" font-size="7.6" fill="#fff">F</text>
<g transform="translate(194.3 143.8) rotate(0)"><path d="M0 5.0 L0 -2" stroke="#fff" stroke-width="1.4" fill="none"/><path d="M0 -5.2 L1.75 -1.1 L-1.75 -1.1 Z" fill="#fff"/></g>
<g transform="translate(239.5 143.8) rotate(0)"><path d="M0 5.0 L0 -2" stroke="#fff" stroke-width="1.4" fill="none"/><path d="M0 -5.2 L1.75 -1.1 L-1.75 -1.1 Z" fill="#fff"/></g>

<polygon points="182.9,261.2 189.0,255.1 260.3,255.1 260.3,287.1 254.2,293.2 182.9,293.2" fill="#0000ff"/>
<polygon points="209.3,293.2 209.3,261.2 215.4,255.1 234.0,255.1 227.9,261.2 227.9,293.2" fill="#ff0000"/>
<path d="M209.3 293.2 L209.3 261.2 L215.4 255.1 M227.9 293.2 L227.9 261.2 L234.0 255.1" stroke="#000" stroke-width="0.9" fill="none"/>
<path d="M254.2 293.2 L254.2 261.2 L260.3 255.1 M182.9 261.2 L209.3 261.2 M227.9 261.2 L254.2 261.2" stroke="#1a1aff" stroke-width="0.45" fill="none"/>
<text x="195.9" y="269.8" text-anchor="middle" font-weight="bold" font-size="7.6" fill="#fff">F</text>
<text x="218.5" y="269.8" text-anchor="middle" font-weight="bold" font-size="7.6" fill="#fff">S</text>
<text x="241.1" y="269.8" text-anchor="middle" font-weight="bold" font-size="7.6" fill="#fff">F</text>
<g transform="translate(195.5 277.8) rotate(45)"><path d="M0 5.0 L0 -2" stroke="#fff" stroke-width="1.4" fill="none"/><path d="M0 -5.2 L1.75 -1.1 L-1.75 -1.1 Z" fill="#fff"/></g>
<g transform="translate(240.7 277.8) rotate(225)"><path d="M0 5.0 L0 -2" stroke="#fff" stroke-width="1.4" fill="none"/><path d="M0 -5.2 L1.75 -1.1 L-1.75 -1.1 Z" fill="#fff"/></g>

<polygon points="186.7,356.4 192.8,350.3 264.1,350.3 264.1,382.3 258.0,388.4 186.7,388.4" fill="#0000ff"/>
<polygon points="213.1,388.4 213.1,356.4 219.2,350.3 237.8,350.3 231.7,356.4 231.7,388.4" fill="#ff0000"/>
<path d="M213.1 388.4 L213.1 356.4 L219.2 350.3 M231.7 388.4 L231.7 356.4 L237.8 350.3" stroke="#000" stroke-width="0.9" fill="none"/>
<path d="M258.0 388.4 L258.0 356.4 L264.1 350.3 M186.7 356.4 L213.1 356.4 M231.7 356.4 L258.0 356.4" stroke="#1a1aff" stroke-width="0.45" fill="none"/>
<text x="199.7" y="365.0" text-anchor="middle" font-weight="bold" font-size="7.6" fill="#fff">F</text>
<text x="222.3" y="365.0" text-anchor="middle" font-weight="bold" font-size="7.6" fill="#fff">S</text>
<text x="244.9" y="365.0" text-anchor="middle" font-weight="bold" font-size="7.6" fill="#fff">F</text>
<g transform="translate(199.3 373.0) rotate(0)"><path d="M0 5.0 L0 -2" stroke="#fff" stroke-width="1.4" fill="none"/><path d="M0 -5.2 L1.75 -1.1 L-1.75 -1.1 Z" fill="#fff"/></g>
<g transform="translate(244.5 373.0) rotate(180)"><path d="M0 5.0 L0 -2" stroke="#fff" stroke-width="1.4" fill="none"/><path d="M0 -5.2 L1.75 -1.1 L-1.75 -1.1 Z" fill="#fff"/></g>

<path d="M60.60 0.00 L60.60 395.10 M367.50 0.00 L367.50 395.10 M54.00 6.90 L374.50 6.90 M54.00 200.70 L374.50 200.70 M54.00 395.10 L374.50 395.10 M60.60 0.00 L60.60 6.90 M60.60 193.80 L60.60 207.60 M60.60 395.10 L60.60 402.00 M86.17 3.30 L86.17 6.90 M86.17 197.10 L86.17 204.30 M86.17 395.10 L86.17 398.70 M111.75 0.00 L111.75 6.90 M111.75 193.80 L111.75 207.60 M111.75 395.10 L111.75 402.00 M137.32 3.30 L137.32 6.90 M137.32 197.10 L137.32 204.30 M137.32 395.10 L137.32 398.70 M162.90 0.00 L162.90 6.90 M162.90 193.80 L162.90 207.60 M162.90 395.10 L162.90 402.00 M188.47 3.30 L188.47 6.90 M188.47 197.10 L188.47 204.30 M188.47 395.10 L188.47 398.70 M214.05 0.00 L214.05 6.90 M214.05 193.80 L214.05 207.60 M214.05 395.10 L214.05 402.00 M239.62 3.30 L239.62 6.90 M239.62 197.10 L239.62 204.30 M239.62 395.10 L239.62 398.70 M265.20 0.00 L265.20 6.90 M265.20 193.80 L265.20 207.60 M265.20 395.10 L265.20 402.00 M290.77 3.30 L290.77 6.90 M290.77 197.10 L290.77 204.30 M290.77 395.10 L290.77 398.70 M316.35 0.00 L316.35 6.90 M316.35 193.80 L316.35 207.60 M316.35 395.10 L316.35 402.00 M341.93 3.30 L341.93 6.90 M341.93 197.10 L341.93 204.30 M341.93 395.10 L341.93 398.70 M367.50 0.00 L367.50 6.90 M367.50 193.80 L367.50 207.60 M367.50 395.10 L367.50 402.00 M54.00 6.90 L60.60 6.90 M367.50 6.90 L374.60 6.90 M54.00 200.70 L60.60 200.70 M367.50 200.70 L374.60 200.70 M57.30 26.28 L60.60 26.28 M367.50 26.28 L371.30 26.28 M57.30 220.08 L60.60 220.08 M367.50 220.08 L371.30 220.08 M54.00 45.66 L60.60 45.66 M367.50 45.66 L374.60 45.66 M54.00 239.46 L60.60 239.46 M367.50 239.46 L374.60 239.46 M57.30 65.04 L60.60 65.04 M367.50 65.04 L371.30 65.04 M57.30 258.84 L60.60 258.84 M367.50 258.84 L371.30 258.84 M54.00 84.42 L60.60 84.42 M367.50 84.42 L374.60 84.42 M54.00 278.22 L60.60 278.22 M367.50 278.22 L374.60 278.22 M57.30 103.80 L60.60 103.80 M367.50 103.80 L371.30 103.80 M57.30 297.60 L60.60 297.60 M367.50 297.60 L371.30 297.60 M54.00 123.18 L60.60 123.18 M367.50 123.18 L374.60 123.18 M54.00 316.98 L60.60 316.98 M367.50 316.98 L374.60 316.98 M57.30 142.56 L60.60 142.56 M367.50 142.56 L371.30 142.56 M57.30 336.36 L60.60 336.36 M367.50 336.36 L371.30 336.36 M54.00 161.94 L60.60 161.94 M367.50 161.94 L374.60 161.94 M54.00 355.74 L60.60 355.74 M367.50 355.74 L374.60 355.74 M57.30 181.32 L60.60 181.32 M367.50 181.32 L371.30 181.32 M57.30 375.12 L60.60 375.12 M367.50 375.12 L371.30 375.12 M54.00 200.70 L60.60 200.70 M367.50 200.70 L374.60 200.70 M54.00 394.50 L60.60 394.50 M367.50 394.50 L374.60 394.50" stroke="#000" stroke-width="1" fill="none"/>
<g font-size="13.2" fill="#000">
<text x="45.6" y="11.3" text-anchor="end">0.5</text>
<text x="45.6" y="50.1" text-anchor="end">0.4</text>
<text x="45.6" y="88.8" text-anchor="end">0.3</text>
<text x="45.6" y="127.6" text-anchor="end">0.2</text>
<text x="45.6" y="166.3" text-anchor="end">0.1</text>
<text x="45.6" y="205.1" text-anchor="end">0</text>
<text x="45.6" y="243.9" text-anchor="end">0.4</text>
<text x="45.6" y="282.6" text-anchor="end">0.3</text>
<text x="45.6" y="321.4" text-anchor="end">0.2</text>
<text x="45.6" y="360.1" text-anchor="end">0.1</text>
<text x="45.6" y="398.9" text-anchor="end">0</text>
<text x="61.8" y="419.8" text-anchor="middle">0</text>
<text x="113.0" y="419.8" text-anchor="middle">0.5</text>
<text x="164.1" y="419.8" text-anchor="middle">1</text>
<text x="215.2" y="419.8" text-anchor="middle">1.5</text>
<text x="266.4" y="419.8" text-anchor="middle">2</text>
<text x="317.6" y="419.8" text-anchor="middle">2.5</text>
<text x="368.7" y="419.8" text-anchor="middle">3</text>
</g>
<g fill="#000">
<text x="337.8" y="123.1" text-anchor="end" font-size="11">0</text>
<path d="M343.1 119.5 L353 119.5" stroke="#00008b" stroke-width="1.3"/>
<text x="337.8" y="135.7" text-anchor="end" font-size="11">0.1<tspan font-style="italic">&#960;</tspan></text>
<path d="M343.1 132.1 L353 132.1" stroke="#4169e1" stroke-width="1.3"/>
<text x="337.8" y="148.3" text-anchor="end" font-size="11">0.2<tspan font-style="italic">&#960;</tspan></text>
<path d="M343.1 144.7 L353 144.7" stroke="#00ced1" stroke-width="1.3"/>
<text x="337.8" y="160.8" text-anchor="end" font-size="11">0.3<tspan font-style="italic">&#960;</tspan></text>
<path d="M343.1 157.2 L353 157.2" stroke="#ffa500" stroke-width="1.3"/>
<text x="337.8" y="173.4" text-anchor="end" font-size="11">0.4<tspan font-style="italic">&#960;</tspan></text>
<path d="M343.1 169.8 L353 169.8" stroke="#ff0000" stroke-width="1.3"/>
<text x="337.8" y="186.0" text-anchor="end" font-size="11">0.5<tspan font-style="italic">&#960;</tspan></text>
<path d="M343.1 182.4 L353 182.4" stroke="#8b0000" stroke-width="1.3"/>
<text x="315.3" y="123.1" text-anchor="end" font-size="11.6">&#934;</text><text x="315.4" y="125.2" font-size="7.6">1</text><path d="M322.6 118.5h6.5v0.85h-6.5z M322.6 121.1h6.5v0.85h-6.5z"/>
</g>
<g font-size="13.2" fill="#000">
<text transform="translate(10.1 103) rotate(-90) scale(1.05 1)" text-anchor="middle">Norm. tunneling conductance <tspan font-style="italic">G</tspan></text>
<text transform="translate(10.1 297.3) rotate(-90) scale(1.05 1)" text-anchor="middle">Norm. tunneling conductance <tspan font-style="italic">G</tspan></text>
<text transform="translate(213.6 438.9) scale(1.06 1)" text-anchor="middle">Bias voltage <tspan font-style="italic">eV</tspan>/&#916;<tspan font-size="9" dy="2">0</tspan></text>
<text x="66.6" y="24.8" font-weight="bold" font-size="16.5">(a)</text>
<text x="66.6" y="222.9" font-weight="bold" font-size="16.5">(b)</text>
<g font-weight="bold" font-size="18.5">
<text transform="translate(258.9 232.4) skewX(-14) scale(1.22 1)" font-style="italic">&#955;</text>
<text transform="translate(269.4 226.4) scale(1.42 1)" font-style="italic" font-size="12.6">&#945;</text>
<text transform="translate(303.4 232.4) skewX(-14) scale(1.22 1)" font-style="italic">&#955;</text>
<text transform="translate(312.6 226.4) scale(1.4 1)" font-style="italic" font-size="12.6">&#946;</text>
<text x="347" y="232.4" font-size="18">1</text>
<path d="M284.8 224.1h11.3v1.9h-11.3z M284.8 229.3h11.3v1.9h-11.3z M328.7 224.1h11.3v1.9h-11.3z M328.7 229.3h11.3v1.9h-11.3z"/>
</g>
</g>
</svg>
</body></html>
